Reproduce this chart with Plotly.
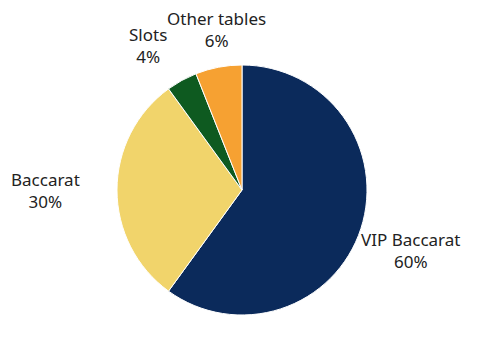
import plotly.graph_objects as go

labels = ["VIP Baccarat", "Baccarat", "Slots", "Other tables"]
values = [60, 30, 4, 6]
colors = ["#0b2a5b", "#f1d46b", "#0e5a20", "#f6a132"]
label_pos = [(410, 250), (45, 190), (148, 46), (216, 29)]

W, H = 480, 360
OFF = 8  # page body margin
cx, cy, r = 242 - OFF, 190 - OFF, 125

fig = go.Figure(go.Pie(
    labels=labels, values=values, sort=False, direction="clockwise", rotation=0,
    marker=dict(colors=colors, line=dict(color="white", width=1)),
    textinfo="none", hoverinfo="label+percent", showlegend=False,
    domain=dict(x=[(cx - r) / W, (cx + r) / W], y=[1 - (cy + r) / H, 1 - (cy - r) / H]),
))

total = sum(values)
for lab, v, (x, y) in zip(labels, values, label_pos):
    fig.add_annotation(
        x=(x - OFF) / W, y=1 - (y - OFF) / H, xref="paper", yref="paper",
        text=f"{lab}<br>{round(100 * v / total)}%", showarrow=False,
        font=dict(family="Noto Sans", size=17, color="#222222"),
        xanchor="center", yanchor="middle", align="center",
    )

fig.update_layout(width=W, height=H, margin=dict(l=0, r=0, t=0, b=0),
                  paper_bgcolor="white", plot_bgcolor="white")
fig.write_html("out.html")
